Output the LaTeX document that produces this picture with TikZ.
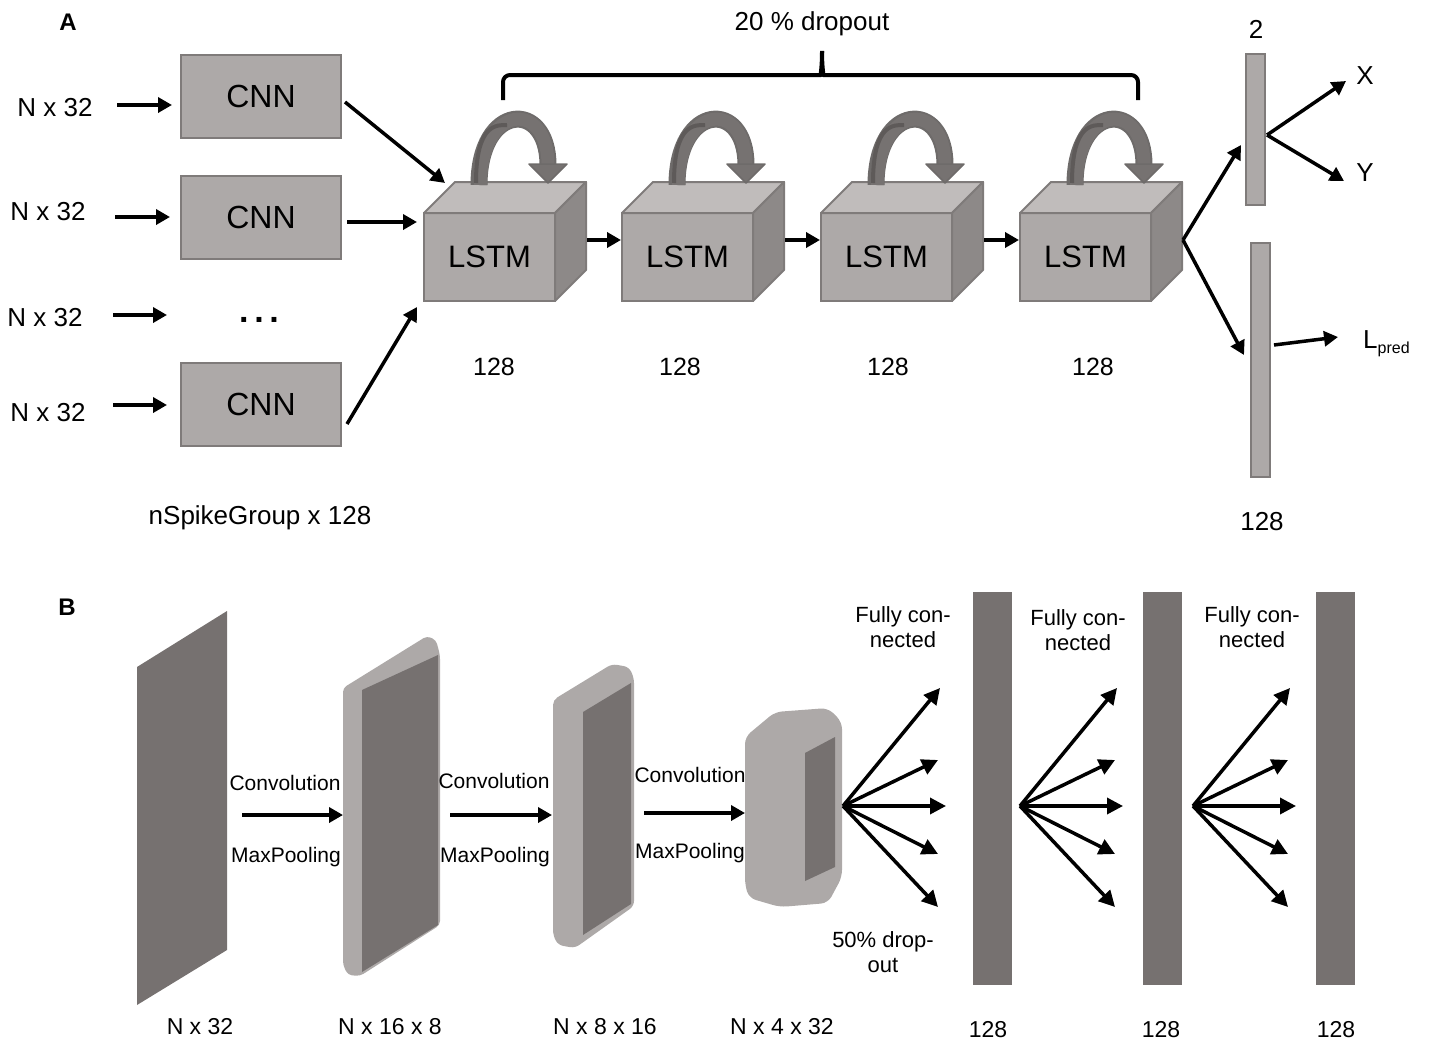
\documentclass[tikz,border=0pt]{standalone}
\usepackage{fontspec}
\setmainfont{Liberation Sans}
\usetikzlibrary{arrows.meta,calc}
\definecolor{boxfill}{HTML}{ADA9A8}
\definecolor{boxline}{HTML}{7F7B7A}
\definecolor{topface}{HTML}{C0BCBB}
\definecolor{sideface}{HTML}{8D8988}
\definecolor{loopc}{HTML}{767271}
\definecolor{loopd}{HTML}{5E5A59}
\definecolor{darkl}{HTML}{767170}
\definecolor{lightl}{HTML}{ADA9A8}
\newcommand\fsz[1]{\fontsize{#1}{#1}\selectfont}
\begin{document}
\begin{tikzpicture}[x=1pt,y=-1pt,
  arr/.style={line width=3.5pt,-{Triangle[length=14pt,width=15pt]}},
  farr/.style={line width=3.5pt,-{Triangle[length=16pt,width=16pt]}},
  txt/.style={inner sep=0pt,font=\fsz{26}},
  btxt/.style={inner sep=0pt,font=\fsz{22},align=center},
  cnn/.style={draw=boxline,line width=2pt,fill=boxfill,minimum width=160pt,minimum height=83pt,outer sep=0pt,inner sep=0pt,font=\fsz{32}},
  cubef/.style={draw=boxline,line width=2pt,fill=boxfill,minimum width=131pt,minimum height=88pt,outer sep=0pt,inner sep=0pt,font=\fsz{31}},
  face/.style={draw=boxline,line width=2pt,line join=round},
  outbar/.style={draw=boxline,line width=2pt,fill=boxfill,outer sep=0pt,inner sep=0pt,minimum width=19pt},
  dbar/.style={fill=darkl,outer sep=0pt,inner sep=0pt,minimum width=39pt,minimum height=393pt},
]
\useasboundingbox (0,0) rectangle (1437,1044);

% ---------------- Panel A ----------------
\node[inner sep=0pt,font=\fsz{24}\bfseries] (labA) at (68,22) {A};

\node[cnn] (c1) at (261,96.5) {CNN};
\node[cnn] (c2) at (261,217) {CNN};
\node[inner sep=0pt,font=\fsz{34}\bfseries] (dots) at (259,320) {.\,.\,.};
\node[cnn] (c4) at (261,404.5) {CNN};

\node[txt] (n1) at (55,108) {N x 32};
\node[txt] (n2) at (48,212) {N x 32};
\node[txt] (n3) at (45,318) {N x 32};
\node[txt] (n4) at (48,413) {N x 32};

\coordinate (i1s) at (117,105); \coordinate (i1e) at (172,105);
\coordinate (i2s) at (115,217); \coordinate (i2e) at (170,217);
\coordinate (i3s) at (113,315); \coordinate (i3e) at (167,315);
\coordinate (i4s) at (113,405); \coordinate (i4e) at (167,405);
\draw[arr] (i1s) -- (i1e);
\draw[arr] (i2s) -- (i2e);
\draw[arr] (i3s) -- (i3e);
\draw[arr] (i4s) -- (i4e);

\node[txt] (nsg) at (260,518) {nSpikeGroup x 128};

% LSTM cubes
\foreach \n/\cx/\lx in {1/489.5/494, 2/687.5/680, 3/886.5/888, 4/1085.5/1093} {
  \node[cubef] (l\n) at (\cx,257) {LSTM};
  \filldraw[face,fill=topface] (l\n.north west) -- ++(31,-31) -- ++(131,0) -- (l\n.north east) -- cycle;
  \filldraw[face,fill=sideface] (l\n.north east) -- ++(31,-31) -- ++(0,88) -- (l\n.south east) -- cycle;
  % recurrent loop arrow
  \coordinate (ls\n) at ($(l\n.north west)+(55,-28)$);
  \coordinate (le\n) at ($(l\n.north west)+(124,-48)$);
  \draw[line width=17pt,loopd!90!white] (ls\n) .. controls +(0,-82) and +(0,-66) .. (le\n);
  \draw[line width=13pt,loopc] ($(ls\n)+(1.5,0)$) .. controls +(0,-82) and +(0,-66) .. (le\n);
  \draw[line width=4pt,loopd] ($(ls\n)+(-3,-2)$) .. controls +(0,-60) and +(-10,0) .. ($(ls\n)+(28,-60)$);
  \filldraw[fill=loopc,draw=loopd!90!white,line width=1.5pt,line join=round] ($(le\n)+(-19,-1)$) -- ($(le\n)+(19,-1)$) -- ($(le\n)+(0,18)$) -- cycle;
  \node[txt,font=\fsz{25}] (s\n) at (\lx,367) {128};
}

% CNN -> LSTM
\coordinate (a1s) at (345,102); \coordinate (a1e) at (445,183);
\coordinate (a2s) at (347,222); \coordinate (a2e) at (417,222);
\coordinate (a4s) at (347,424); \coordinate (a4e) at (417,307);
\draw[arr] (a1s) -- (a1e);
\draw[arr] (a2s) -- (a2e);
\draw[arr] (a4s) -- (a4e);

% LSTM chain
\draw[arr] ($(l1.east)+(32,-17)$) -- ($(l2.west)+(-1,-17)$);
\draw[arr] ($(l2.east)+(32,-17)$) -- ($(l3.west)+(-1,-17)$);
\draw[arr] ($(l3.east)+(32,-17)$) -- ($(l4.west)+(-1,-17)$);

% brace
\draw[line width=4pt,line join=round,rounded corners=7pt]
  (503,100) -- (503,75) -- (814,75) .. controls (820,75) and (822,70) .. (822,51);
\draw[line width=4pt,line join=round,rounded corners=7pt]
  (1138,100) -- (1138,75) -- (830,75) .. controls (824,75) and (822,70) .. (822,51);
\node[txt] (drop) at (812,24) {20 \% dropout};

% outputs
\node[outbar,minimum height=151pt] (o1) at (1255.5,129.5) {};
\node[outbar,minimum height=234pt] (o2) at (1260.5,360) {};
\node[txt] (two) at (1256,29) {2};
\node[txt] (o128) at (1262,522) {128};
\coordinate (c4out) at (1183,240);
\coordinate (o1in) at (1241,145);
\coordinate (o2in) at (1244,355);
\draw[arr] (c4out) -- (o1in);
\draw[arr] (c4out) -- (o2in);
\coordinate (o1out) at (1267,135);
\coordinate (xe) at (1346,81);
\coordinate (ye) at (1344,181);
\draw[arr] (o1out) -- (xe);
\draw[arr] (o1out) -- (ye);
\node[txt] (X) at (1365,76) {X};
\node[txt] (Y) at (1365,173) {Y};
\coordinate (o2out) at (1274,345);
\coordinate (lpe) at (1338,337);
\draw[arr] (o2out) -- (lpe);
\node[txt,anchor=west] (lp) at (1363,344) {L{\fsz{16}\raisebox{-5pt}{pred}}};

% ---------------- Panel B ----------------
\node[inner sep=0pt,font=\fsz{24}\bfseries] (labB) at (67,607) {B};

% layer 1
\fill[darkl] (137,667) -- (227,611) -- (227,950) -- (137,1005) -- cycle;
% layer 2
\fill[lightl,rounded corners=4pt] (343,688) -- (427,636) -- (436,640) -- (440,655) -- (440,925) -- (360,976) -- (348,975) -- (343,965) -- cycle;
\fill[darkl] (362,690) -- (438,655) -- (438,925) -- (362,972) -- cycle;
% layer 3
\fill[lightl,rounded corners=5pt] (553,700) -- (612,664) -- (629,667) -- (634,678) -- (634,906) -- (575,948) -- (558,945) -- (553,935) -- cycle;
\fill[darkl] (583,712) -- (631,683) -- (631,904) -- (583,935) -- cycle;
% layer 4
\fill[lightl,rounded corners=7pt] (745,737) -- (775,712) -- (828,708) -- (842,722) -- (842,877) -- (828,903) -- (780,907) -- (749,898) -- (745,885) -- cycle;
\fill[darkl] (805,753) -- (835,737) -- (835,867) -- (805,881) -- cycle;

\node[btxt,font=\fsz{23}] (d1) at (200,1027) {N x 32};
\node[btxt,font=\fsz{23}] (d2) at (390,1027) {N x 16 x 8};
\node[btxt,font=\fsz{23}] (d3) at (605,1027) {N x 8 x 16};
\node[btxt,font=\fsz{23}] (d4) at (782,1027) {N x 4 x 32};

% conv arrows
\coordinate (p1s) at (242,815); \coordinate (p1e) at (343,815);
\coordinate (p2s) at (450,815); \coordinate (p2e) at (552,815);
\coordinate (p3s) at (644,813); \coordinate (p3e) at (745,813);
\draw[arr] (p1s) -- (p1e);
\draw[arr] (p2s) -- (p2e);
\draw[arr] (p3s) -- (p3e);
\node[btxt,font=\fsz{21}] (cv1) at (285,783) {Convolution};
\node[btxt,font=\fsz{21}] (mp1) at (286,857) {MaxPooling};
\node[btxt,font=\fsz{21}] (cv2) at (494,781) {Convolution};
\node[btxt,font=\fsz{21}] (mp2) at (495,857) {MaxPooling};
\node[btxt,font=\fsz{21}] (cv3) at (690,775) {Convolution};
\node[btxt,font=\fsz{21}] (mp3) at (690,853) {MaxPooling};

% fully connected bars
\node[dbar] (b1) at (992.5,788.5) {};
\node[dbar] (b2) at (1162.5,788.5) {};
\node[dbar] (b3) at (1335.5,788.5) {};
\node[btxt,font=\fsz{23}] (e1) at (988,1030) {128};
\node[btxt,font=\fsz{23}] (e2) at (1161,1030) {128};
\node[btxt,font=\fsz{23}] (e3) at (1336,1030) {128};

\coordinate (f1) at (843,806);
\coordinate (f2) at (1020,806);
\coordinate (f3) at (1193,806);
\foreach \f in {f1,f2,f3} {
  \foreach \dx/\dy in {97/-118, 95/-46, 103/0, 95/48, 95/101} {
    \draw[farr] (\f) -- ++(\dx,\dy);
  }
}

\node[btxt,font=\fsz{22}] (fc1) at (903,627) {Fully con-\\[3pt]nected};
\node[btxt,font=\fsz{22}] (fc2) at (1078,630) {Fully con-\\[3pt]nected};
\node[btxt,font=\fsz{22}] (fc3) at (1252,627) {Fully con-\\[3pt]nected};
\node[btxt,font=\fsz{22}] (dr) at (883,952) {50\% drop-\\[3pt]out};
\end{tikzpicture}
\end{document}
